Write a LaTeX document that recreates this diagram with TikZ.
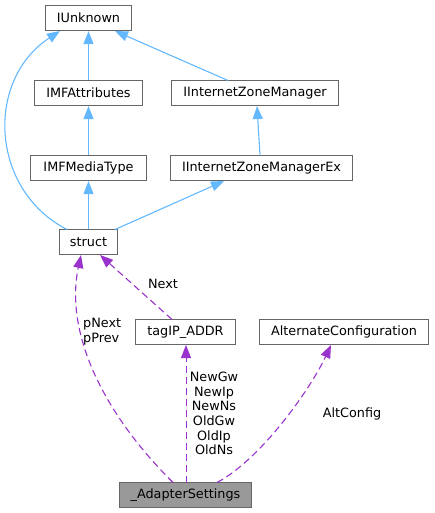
\documentclass[tikz,border=0pt]{standalone}
\usepackage{fontspec}
\setmainfont{DejaVu Sans}
\usetikzlibrary{arrows.meta}
\definecolor{edgeblue}{HTML}{63B8FF}
\definecolor{edgepurple}{HTML}{9A32CD}
\definecolor{boxborder}{HTML}{666666}
\definecolor{boxfill}{HTML}{999999}
\tikzset{
  cls/.style={draw=boxborder, line width=1.3pt, fill=white, inner sep=0pt, minimum height=25pt, font=\fontsize{12.8}{14.7}\selectfont},
  inh/.style={draw=edgeblue, line width=1.1pt, -{Triangle[length=13pt,width=10pt]}},
  use/.style={draw=edgepurple, line width=1.1pt, dash pattern=on 7pt off 4pt, -{Triangle[length=13pt,width=10pt]}},
  lbl/.style={font=\fontsize{12.8}{14.7}\selectfont, align=center, inner sep=0pt}
}
\begin{document}
\begin{tikzpicture}[x=1pt,y=-1pt]
\useasboundingbox (0,0) rectangle (435,513);
\node[cls, minimum width=86pt] (iunk) at (88.5,18) {IUnknown};
\node[cls, minimum width=108pt] (imfa) at (88.5,93) {IMFAttributes};
\node[cls, minimum width=167pt] (izm) at (255,93) {IInternetZoneManager};
\node[cls, minimum width=116pt] (imfm) at (88.5,168) {IMFMediaType};
\node[cls, minimum width=182pt] (izmx) at (261.5,168) {IInternetZoneManagerEx};
\node[cls, minimum width=58pt] (st) at (88.5,242) {struct};
\node[cls, minimum width=100pt] (tag) at (185.5,332) {tagIP\_ADDR};
\node[cls, minimum width=169pt] (alt) at (344,332) {AlternateConfiguration};
\node[cls, minimum width=132pt, fill=boxfill] (ad) at (185.5,495) {\_AdapterSettings};

\coordinate (iunkL) at (60,31);
\coordinate (iunkR) at (115,31);
\coordinate (stTL) at (67,229.5);
\coordinate (stTR) at (115,229.5);
\coordinate (stBL) at (81,255);
\coordinate (stBR) at (100,255);
\coordinate (izmB) at (257,106);
\coordinate (izmT) at (228,80.5);
\coordinate (izmxT) at (260,155.5);
\coordinate (izmxB) at (224,181);
\coordinate (tagT) at (172,319.5);
\coordinate (tagB) at (186,345);
\coordinate (adT) at (186,482.5);
\coordinate (adL) at (173,482.5);
\coordinate (adR) at (217,482.5);
\coordinate (altB) at (331,345);

\draw[inh] (imfa.north) -- (iunk.south);
\draw[inh] (izmT) -- (iunkR);
\draw[inh] (imfm.north) -- (imfa.south);
\draw[inh] (izmxT) -- (izmB);
\draw[inh] (st.north) -- (imfm.south);
\draw[inh] (stTR) -- (izmxB);
\draw[inh] (stTL) .. controls (-10,190) and (-15,80) .. (iunkL);

\draw[use] (adL) .. controls (100,410) and (65,330) .. (stBL);
\draw[use] (tagT) -- (stBR);
\draw[use, line width=1pt] (adT) -- (tagB);
\draw[use] (adR) .. controls (260,460) and (310,390) .. (altB);

\node[lbl] (lnext) at (163,284) {Next};
\node[lbl, align=left, anchor=west] (lpp) at (83,331.5) {pNext\\pPrev};
\node[lbl] (lnew) at (214,413.5) {NewGw\\NewIp\\NewNs\\OldGw\\OldIp\\OldNs};
\node[lbl] (lalt) at (352,414) {AltConfig};
\end{tikzpicture}
\end{document}
